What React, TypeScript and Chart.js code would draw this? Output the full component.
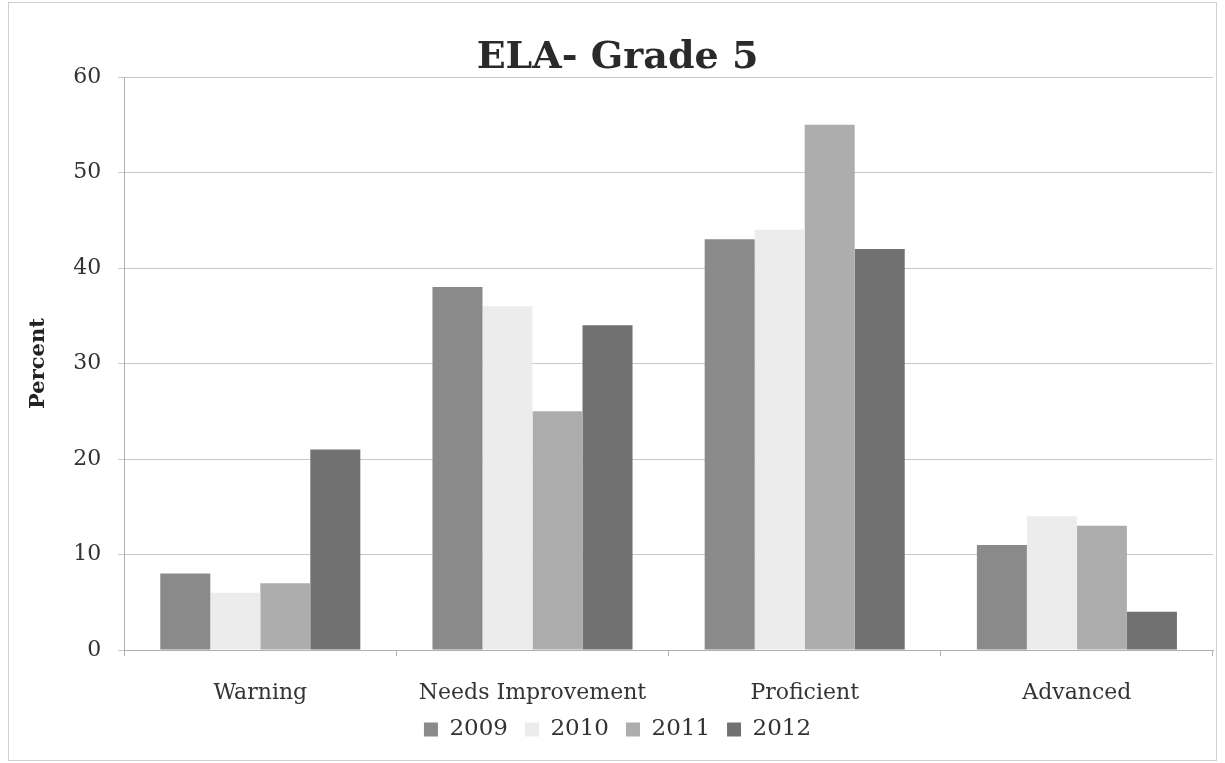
import React, { useEffect, useRef } from "react";
import { Chart, registerables } from "chart.js";

Chart.register(...registerables);

const categories = ["Warning", "Needs Improvement", "Proficient", "Advanced"];
const years = ["2009", "2010", "2011", "2012"];
const values2009 = [8, 38, 43, 11];
const values2010 = [6, 36, 44, 14];
const values2011 = [7, 25, 55, 13];
const values2012 = [21, 34, 42, 4];
const colors = ["#8a8a8a", "#ececec", "#adadad", "#717171"];

const FONT = "'DejaVu Serif', 'Liberation Serif', serif";

const borderPlugin = {
  id: "outerBorder",
  beforeDraw(chart: any) {
    const ctx = chart.ctx;
    ctx.save();
    ctx.fillStyle = "#ffffff";
    ctx.fillRect(0, 0, chart.width, chart.height);
    ctx.strokeStyle = "#d0d0d0";
    ctx.lineWidth = 1;
    ctx.strokeRect(8.5, 2.5, chart.width - 17, chart.height - 5);
    ctx.restore();
  },
  afterLayout(chart: any) {
    // let the category labels overflow into the legend band without being clipped
    if (chart.scales.x) chart.scales.x.bottom = chart.height;
  },
};

export default function App() {
  const ref = useRef<HTMLCanvasElement | null>(null);
  useEffect(() => {
    if (!ref.current) return;
    const series = [values2009, values2010, values2011, values2012];
    const chart = new Chart(ref.current, {
      type: "bar",
      data: {
        labels: categories,
        datasets: years.map((y, i) => ({
          label: y,
          data: series[i],
          backgroundColor: colors[i],
          borderWidth: 0,
          categoryPercentage: 0.735,
          barPercentage: 1,
        })),
      },
      options: {
        animation: false,
        responsive: false,
        maintainAspectRatio: false,
        layout: { padding: { left: 22, right: 12, top: 0, bottom: 12 } },
        plugins: {
          title: {
            display: true,
            text: "ELA- Grade 5",
            color: "#2a2a2a",
            font: { family: FONT, size: 38, weight: "bold", lineHeight: 1 },
            padding: { top: 39, bottom: 0 },
          },
          legend: {
            position: "bottom",
            labels: {
              color: "#333333",
              font: { family: FONT, size: 23 },
              boxWidth: 14,
              boxHeight: 14,
              padding: 17,
            },
          },
          tooltip: { enabled: false },
        },
        scales: {
          x: {
            afterFit: (scale: any) => {
              scale.height = 51;
            },
            grid: {
              display: true,
              drawOnChartArea: false,
              drawTicks: true,
              tickLength: 6,
              offset: true,
              color: "#b0b0b0",
            },
            border: { color: "#b0b0b0" },
            ticks: {
              color: "#333333",
              font: { family: FONT, size: 22 },
              padding: 24,
            },
          },
          y: {
            min: 0,
            max: 60,
            ticks: {
              stepSize: 10,
              color: "#333333",
              font: { family: FONT, size: 22 },
              padding: 17,
            },
            grid: { color: "#c8c8c8", tickLength: 6 },
            border: { color: "#b0b0b0" },
            title: {
              display: true,
              text: "Percent",
              color: "#222222",
              font: { family: FONT, size: 21, weight: "bold" },
              padding: { bottom: 5 },
            },
          },
        },
      },
      plugins: [borderPlugin],
    });
    return () => chart.destroy();
  }, []);
  return (
    <div style={{ position: "absolute", left: 0, top: 0, width: 1225, height: 763 }}>
      <canvas ref={ref} width={1225} height={763} style={{ display: "block" }} />
    </div>
  );
}
